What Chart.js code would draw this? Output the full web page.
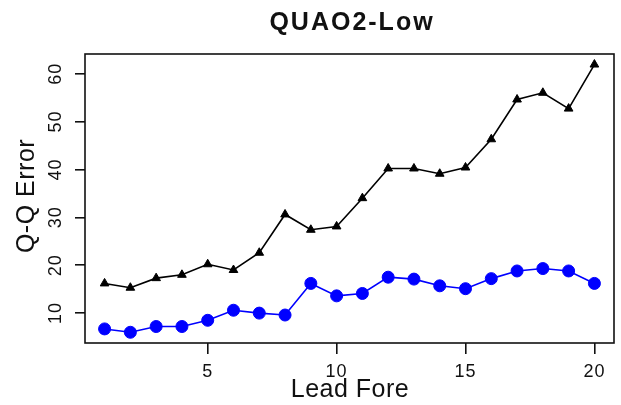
<!DOCTYPE html>
<html>
<head>
<meta charset="utf-8">
<script src="https://cdn.jsdelivr.net/npm/chart.js@4/dist/chart.umd.min.js"></script>
<style>
  html, body { margin: 0; padding: 0; background: #ffffff; }
  #wrap { width: 621px; height: 405px; }
</style>
</head>
<body>
<div id="wrap"><canvas id="c" width="621" height="405"></canvas></div>
<script>
// Forecast lead (1..20)
const leads = [1, 2, 3, 4, 5, 6, 7, 8, 9, 10, 11, 12, 13, 14, 15, 16, 17, 18, 19, 20];
// Q-Q error, upper series (black, triangles)
const seriesBlack = [16.2, 15.3, 17.3, 18.0, 20.2, 19.0, 22.6, 30.6, 27.4, 28.1,
                     34.0, 40.2, 40.2, 39.1, 40.4, 46.3, 54.6, 56.0, 52.7, 61.9];
// Q-Q error, lower series (blue, circles)
const seriesBlue = [6.7, 6.0, 7.2, 7.2, 8.5, 10.6, 10.0, 9.6, 16.2, 13.6,
                    14.1, 17.5, 17.1, 15.7, 15.1, 17.2, 18.8, 19.3, 18.8, 16.2];
// Axis tick values
const xTicks = [5, 10, 15, 20];
const yTicks = [10, 20, 30, 40, 50, 60];

const titleText = 'QUAO2-Low';
const xTitle = 'Lead Fore';
const yTitle = 'Q-Q Error';

const FONT = '"Liberation Sans", Arial, sans-serif';

const toPoints = (vals) => leads.map((x, i) => ({ x: x, y: vals[i] }));

// Draws the frame, title, axis titles and tick labels
const decorations = {
  id: 'decorations',
  afterDraw(chart) {
    const { ctx, chartArea: a, scales } = chart;
    ctx.save();
    // full box around the plot region
    ctx.strokeStyle = '#111';
    ctx.lineWidth = 1.6;
    ctx.strokeRect(a.left, a.top, a.right - a.left, a.bottom - a.top);

    ctx.fillStyle = '#111';
    // title
    ctx.font = 'bold 25px ' + FONT;
    ctx.letterSpacing = '2px';
    ctx.textAlign = 'center';
    ctx.textBaseline = 'middle';
    ctx.fillText(titleText, 352, 23);

    // x tick labels
    ctx.font = '18px ' + FONT;
    ctx.letterSpacing = '1px';
    xTicks.forEach(v => {
      ctx.fillText(String(v), scales.x.getPixelForValue(v), 372);
    });

    // y tick labels, rotated
    yTicks.forEach(v => {
      const y = scales.y.getPixelForValue(v);
      ctx.save();
      ctx.translate(56, y);
      ctx.rotate(-Math.PI / 2);
      ctx.fillText(String(v), 0, 0);
      ctx.restore();
    });

    // axis titles
    ctx.font = '25px ' + FONT;
    ctx.letterSpacing = '0.5px';
    ctx.fillText(xTitle, 350, 390);
    ctx.save();
    ctx.translate(27, 196);
    ctx.rotate(-Math.PI / 2);
    ctx.fillText(yTitle, 0, 0);
    ctx.restore();
    ctx.restore();
  }
};

new Chart(document.getElementById('c'), {
  type: 'line',
  data: {
    datasets: [
      {
        data: toPoints(seriesBlack),
        borderColor: '#000000',
        backgroundColor: '#000000',
        borderWidth: 1.6,
        pointStyle: 'triangle',
        pointRadius: 5,
        pointBackgroundColor: '#000000',
        pointBorderColor: '#000000',
        pointBorderWidth: 1,
        tension: 0
      },
      {
        data: toPoints(seriesBlue),
        borderColor: '#0000ff',
        backgroundColor: '#0000ff',
        borderWidth: 1.6,
        pointStyle: 'circle',
        pointRadius: 6,
        pointBackgroundColor: '#0000ff',
        pointBorderColor: '#0000ff',
        pointBorderWidth: 1,
        tension: 0
      }
    ]
  },
  options: {
    responsive: false,
    animation: false,
    events: [],
    layout: { padding: { top: 54, right: 2, left: 0, bottom: 0 } },
    plugins: {
      legend: { display: false },
      title: { display: false },
      tooltip: { enabled: false }
    },
    scales: {
      x: {
        type: 'linear',
        min: 0.24,
        max: 20.76,
        afterBuildTicks: (s) => { s.ticks = xTicks.map(v => ({ value: v })); },
        afterFit: (s) => { s.height = 62; },
        border: { display: false },
        grid: {
          drawOnChartArea: false,
          drawTicks: true,
          tickLength: 11,
          color: '#111',
          lineWidth: 1.6
        },
        ticks: { color: 'rgba(0,0,0,0)', font: { size: 18 } }
      },
      y: {
        type: 'linear',
        min: 3.76,
        max: 64.1,
        afterBuildTicks: (s) => { s.ticks = yTicks.map(v => ({ value: v })); },
        afterFit: (s) => { s.width = 85; },
        border: { display: false },
        grid: {
          drawOnChartArea: false,
          drawTicks: true,
          tickLength: 10,
          color: '#111',
          lineWidth: 1.6
        },
        ticks: { color: 'rgba(0,0,0,0)', font: { size: 17 } }
      }
    }
  },
  plugins: [decorations]
});
</script>
</body>
</html>
